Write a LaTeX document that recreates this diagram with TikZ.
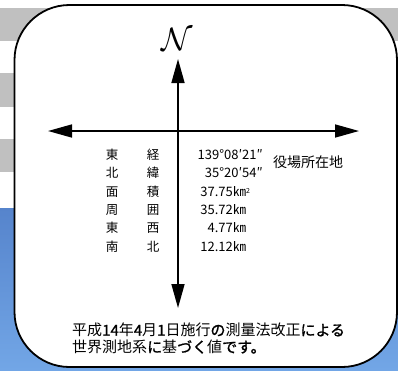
\documentclass[tikz,border=0pt]{standalone}
\usepackage{fontspec}
\usepackage{graphicx}
\usetikzlibrary{arrows.meta}
\newfontfamily\jp{Noto Sans CJK JP}
\newfontfamily\jpb[FakeBold=1.2]{Noto Sans CJK JP}
\newcommand\bo[1]{{\jpb #1}}
\definecolor{bandgray}{RGB}{192,192,192}
\definecolor{bluetop}{RGB}{86,132,204}
\definecolor{bluebot}{RGB}{114,166,230}
\tikzset{
  axis/.style={line width=1.6pt,{Triangle[length=24pt,width=13pt]}-{Triangle[length=24pt,width=13pt]}},
  cell/.style={font=\jp\fontsize{12.5}{12.5}\selectfont, inner sep=0pt},
  val/.style={font=\jp\fontsize{13}{13}\selectfont, inner sep=0pt},
  note/.style={font=\jp\fontsize{15}{15}\selectfont, inner sep=0pt, anchor=west}
}
\begin{document}
\begin{tikzpicture}[x=1pt,y=-1pt]
\useasboundingbox (0,0) rectangle (398,370);
\fill[white] (0,0) rectangle (398,370);
\fill[bandgray] (0,8) rectangle (398,41);
\fill[bandgray] (0,73) rectangle (398,107);
\fill[bandgray] (0,139) rectangle (398,172);
\shade[top color=bluetop, bottom color=bluebot] (0,208) rectangle (398,370);
\draw[line width=1.8pt, fill=white, rounded corners=55pt] (14.5,5) rectangle (397,367);

\coordinate (ntip) at (178,59);
\coordinate (stip) at (178,308);
\coordinate (wtip) at (48,131);
\coordinate (etip) at (359,131);
\draw[axis] (stip) -- (ntip);
\draw[axis] (wtip) -- (etip);

\node[inner sep=0pt] (north) at (177,39) {\scalebox{1.3}{\fontsize{24}{24}\selectfont$\mathcal{N}$}};

% table
\node[cell] (a1) at (112,155) {東};  \node[cell] (b1) at (153,155) {経};
\node[cell] (a2) at (112,173) {北};  \node[cell] (b2) at (153,173) {緯};
\node[cell] (a3) at (112,192) {面};  \node[cell] (b3) at (153,192) {積};
\node[cell] (a4) at (112,210) {周};  \node[cell] (b4) at (153,210) {囲};
\node[cell] (a5) at (112,228) {東};  \node[cell] (b5) at (153,228) {西};
\node[cell] (a6) at (112,247) {南};  \node[cell] (b6) at (153,247) {北};

\node[val, anchor=east] (v1) at (263,155) {139°08′21″};
\node[val, anchor=east] (v2) at (263,173) {35°20′54″};
\node[val, anchor=east] (v3) at (233,192) {37.75};
\node[val, anchor=west] (u3) at (v3.east) {㎞\raisebox{0.5ex}{\fontsize{7}{7}\selectfont 2}};
\node[val, anchor=east] (v4) at (233,210) {35.72};
\node[val, anchor=west] (u4) at (v4.east) {㎞};
\node[val, anchor=east] (v5) at (233,228) {4.77};
\node[val, anchor=west] (u5) at (v5.east) {㎞};
\node[val, anchor=east] (v6) at (233,247) {12.12};
\node[val, anchor=west] (u6) at (v6.east) {㎞};

\node[font=\jp\fontsize{14}{14}\selectfont, inner sep=0pt] (office) at (308,162) {役場所在地};

\node[note] (line1) at (72,330) {平成\bo{14}年\bo{4}月\bo{1}日施行\bo{の}測量法改正\bo{による}};
\node[note] (line2) at (72,347) {世界測地系\bo{に}基\bo{づく}値\bo{です。}};
\end{tikzpicture}
\end{document}
